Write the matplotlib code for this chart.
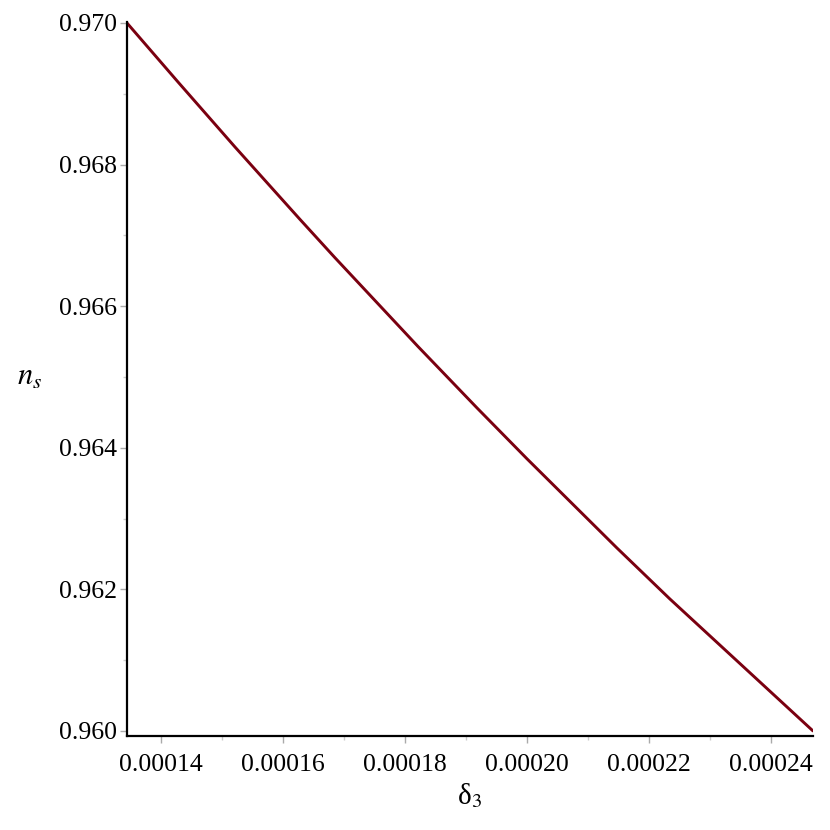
import matplotlib
matplotlib.use('Agg')
import matplotlib.pyplot as plt
from matplotlib.ticker import MultipleLocator, FormatStrFormatter

plt.rcParams['font.family'] = ['Liberation Serif', 'DejaVu Serif']
plt.rcParams['mathtext.fontset'] = 'stix'

# values
delta3 = [0.00013443, 0.00014279, 0.00015213, 0.00016279, 0.00016852, 0.00018213,
          0.00019180, 0.00020000, 0.00021475, 0.00022344, 0.00024690]
n_s = [0.970000, 0.969167, 0.968249, 0.967226, 0.966685, 0.965431,
       0.964564, 0.963845, 0.962585, 0.961864, 0.960000]

x_ticks = [0.00014, 0.00016, 0.00018, 0.00020, 0.00022, 0.00024]
y_ticks = [0.960, 0.962, 0.964, 0.966, 0.968, 0.970]

fig = plt.figure(figsize=(8.3, 8.3), dpi=100)
ax = fig.add_axes([0.153, 0.1133, 0.8265, 0.8602])

ax.plot(delta3, n_s, color='#7a0010', lw=2.1, solid_capstyle='round',
        solid_joinstyle='round')

ax.set_xlim(0.00013443, 0.0002469)
ax.set_ylim(0.959929, 0.970014)

ax.set_xticks(x_ticks)
ax.set_yticks(y_ticks)
ax.xaxis.set_major_formatter(FormatStrFormatter('%.5f'))
ax.yaxis.set_major_formatter(FormatStrFormatter('%.3f'))
ax.xaxis.set_minor_locator(MultipleLocator(0.00001))
ax.yaxis.set_minor_locator(MultipleLocator(0.001))

for s in ['top', 'right']:
    ax.spines[s].set_visible(False)
for s in ['left', 'bottom']:
    ax.spines[s].set_linewidth(1.6)
    ax.spines[s].set_color('black')

ax.tick_params(axis='both', which='major', labelsize=18.5, color='#aaaaaa',
               width=1.0, length=5)
ax.tick_params(axis='x', which='major', pad=8)
ax.tick_params(axis='y', which='major', pad=2.5)
ax.tick_params(axis='both', which='minor', color='#cccccc', width=1.0, length=3)

ax.set_xlabel('δ$_3$', fontsize=21, labelpad=4)
fig.text(0.036, 0.545, '$n_s$', fontsize=22, ha='center', va='center')

fig.savefig('out.png', dpi=100, facecolor='white')
